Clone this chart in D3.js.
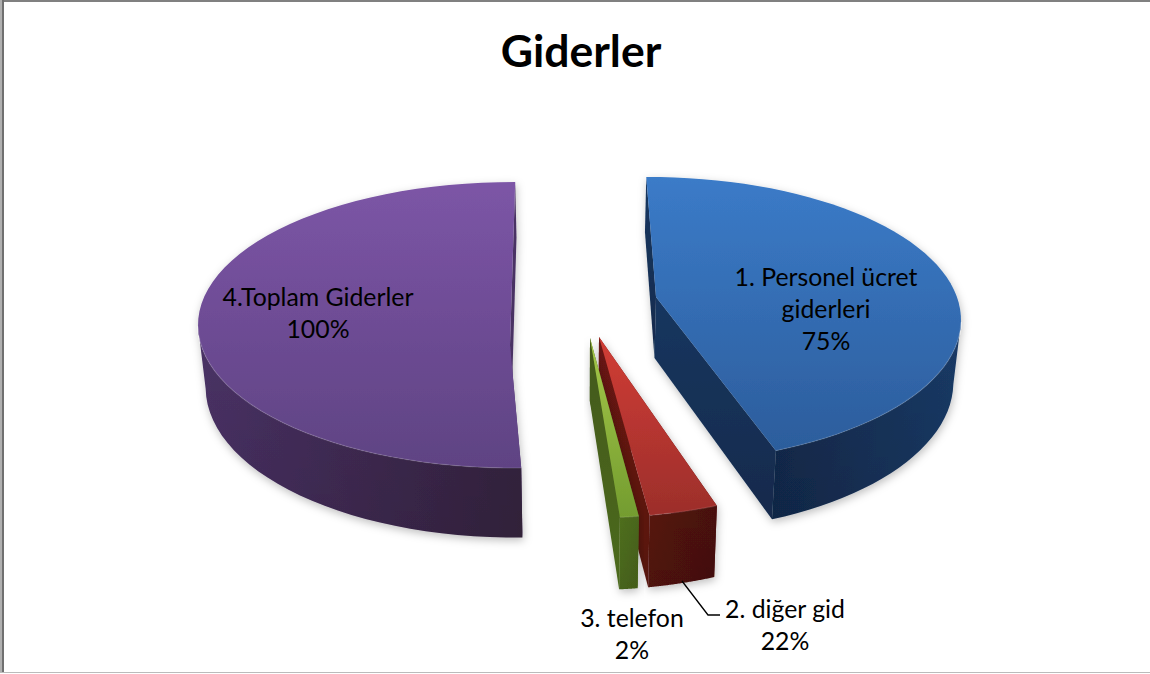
<!DOCTYPE html>
<html>
<head>
<meta charset="utf-8">
<script src="https://cdn.jsdelivr.net/npm/d3@7"></script>
<style>
  html, body { margin: 0; padding: 0; background: #fff; }
  svg { display: block; }
  text { font-family: Lato, "Open Sans", sans-serif; fill: #000; }
</style>
</head>
<body>
<svg id="chart" width="1150" height="674"></svg>
<script>
const title = "Giderler";
const categories = ["1. Personel ücret giderleri", "2. diğer gid", "3. telefon", "4.Toplam Giderler"];
const values = [75, 22, 2, 100];
const percents = ["75%", "22%", "2%", "100%"];

// how each exploded slice sits in the picture (the 3D view bends the angles)
const sliceViews = [
  { ex: 649, ey: 320, rx: 312, ry: 143, apex: [656, 297], phi: [-0.5, 156], top: ["#3b7bc8", "#2c5d9c"], side: ["#122a4c", "#1a3a66"], wall: ["#17365f", "#122a4c"] },
  { ex: 590, ey: 375, rx: 312, ry: 143, apex: [599, 337], phi: [156, 169], top: ["#d13d35", "#9c2e2b"], side: ["#571410", "#47110d"], wall: ["#6a1612", "#571410"] },
  { ex: 590, ey: 375, rx: 312, ry: 143, apex: [590, 338], phi: [171, 174.5], top: ["#a6c84a", "#739c2f"], side: ["#4f6f1e", "#4a661b"], wall: ["#43591a", "#4c6a1c"] },
  { ex: 513, ey: 325, rx: 315, ry: 143, apex: [510, 345], phi: [178.5, 360.4], top: ["#7c55a6", "#5f4383"], side: ["#4a3266", "#35233f"], wall: ["#4a3264", "#4a3264"] }
];

const labelBlocks = [
  { x: 826, y: 286, lines: ["1. Personel ücret", "giderleri", "75%"] },
  { x: 785, y: 618, lines: ["2. diğer gid", "22%"] },
  { x: 632, y: 627, lines: ["3. telefon", "2%"] },
  { x: 318, y: 306, lines: ["4.Toplam Giderler", "100%"] }
];

const svg = d3.select("#chart");
const defs = svg.append("defs");

// soft shadow below the slices
const shadow = defs.append("filter").attr("id", "shadow")
  .attr("x", "-10%").attr("y", "-10%").attr("width", "120%").attr("height", "120%");
shadow.append("feDropShadow")
  .attr("dx", 1).attr("dy", 3).attr("stdDeviation", 4)
  .attr("flood-color", "#000").attr("flood-opacity", 0.25);

function gradient(id, colors, horizontal) {
  const g = defs.append("linearGradient").attr("id", id)
    .attr("x1", 0).attr("y1", 0)
    .attr("x2", horizontal ? 1 : 0).attr("y2", horizontal ? 0 : 1);
  g.append("stop").attr("offset", "0%").attr("stop-color", colors[0]);
  g.append("stop").attr("offset", "100%").attr("stop-color", colors[1]);
  return `url(#${id})`;
}

// page frame, heavier at the top and left, no right edge
svg.append("rect").attr("x", 0).attr("y", 0).attr("width", 1150).attr("height", 2).attr("fill", "#808080");
svg.append("rect").attr("x", 0).attr("y", 0).attr("width", 2).attr("height", 673).attr("fill", "#b0b0b0");
svg.append("rect").attr("x", 2).attr("y", 0).attr("width", 2).attr("height", 673).attr("fill", "#707070");
svg.append("rect").attr("x", 0).attr("y", 672).attr("width", 1150).attr("height", 1).attr("fill", "#bbbbbb");

svg.append("text")
  .attr("x", 581).attr("y", 67)
  .attr("text-anchor", "middle")
  .attr("font-size", 44.5).attr("font-weight", 700)
  .text(title);

const pie = d3.pie().sort(null).startAngle(0).endAngle(2 * Math.PI);
const arcs = pie(values);
const line = d3.line();

// side depth grows toward the viewer and the base narrows a little
function drop(p) {
  const depth = 55 + (p[1] - 177) * 0.05;
  return [p[0] + (580 - p[0]) * 0.02, p[1] + depth];
}

const sideShade = defs.append("linearGradient").attr("id", "sideShade")
  .attr("x1", 0).attr("y1", 0).attr("x2", 0).attr("y2", 1);
sideShade.append("stop").attr("offset", "0%").attr("stop-color", "#000").attr("stop-opacity", 0);
sideShade.append("stop").attr("offset", "100%").attr("stop-color", "#000").attr("stop-opacity", 0.1);

const groups = svg.selectAll("g.slice")
  .data(arcs)
  .join("g")
  .attr("class", "slice")
  .attr("filter", "url(#shadow)");

groups.each(function(d, i) {
  const v = sliceViews[i];
  const g = d3.select(this);
  const phi = d3.scaleLinear()
    .domain([d.startAngle, d.endAngle])
    .range(v.phi.map(a => a * Math.PI / 180));

  const rim = d3.range(0, 61).map(k => {
    const t = d.startAngle + (d.endAngle - d.startAngle) * k / 60;
    return [v.ex + v.rx * Math.sin(phi(t)), v.ey - v.ry * Math.cos(phi(t))];
  });
  const first = rim[0];
  const last = rim[rim.length - 1];

  const wallFill = gradient("wall" + i, v.wall, false);
  [[v.apex, first], [v.apex, last]].forEach(edge => {
    g.append("path")
      .attr("d", line([edge[0], edge[1], drop(edge[1]), drop(edge[0])]) + "Z")
      .attr("fill", wallFill);
  });

  // outer side, only the part turned to the viewer
  const front = rim.filter(p => p[1] >= v.ey - 2 || i == 1 || i == 2);
  const sidePath = line(front.concat(front.map(drop).reverse())) + "Z";
  g.append("path").attr("d", sidePath).attr("fill", gradient("side" + i, v.side, true));
  g.append("path").attr("d", sidePath).attr("fill", "url(#sideShade)");

  g.append("path")
    .attr("d", line([v.apex].concat(rim)) + "Z")
    .attr("fill", gradient("top" + i, v.top, false));

  // light edge where the top meets the side
  g.append("path")
    .attr("d", line(front))
    .attr("fill", "none")
    .attr("stroke", "#fff").attr("stroke-opacity", 0.1).attr("stroke-width", 1.5);
});

// leader of the 2. diğer gid label
svg.append("path")
  .attr("d", line([[682, 581], [708, 615], [720, 615]]))
  .attr("fill", "none").attr("stroke", "#000").attr("stroke-width", 1.3);

labelBlocks.forEach(b => {
  const t = svg.append("text")
    .attr("text-anchor", "middle")
    .attr("font-size", 24.8);
  b.lines.forEach((s, j) => {
    t.append("tspan").attr("x", b.x).attr("y", b.y + j * 32).text(s);
  });
});
</script>
</body>
</html>
